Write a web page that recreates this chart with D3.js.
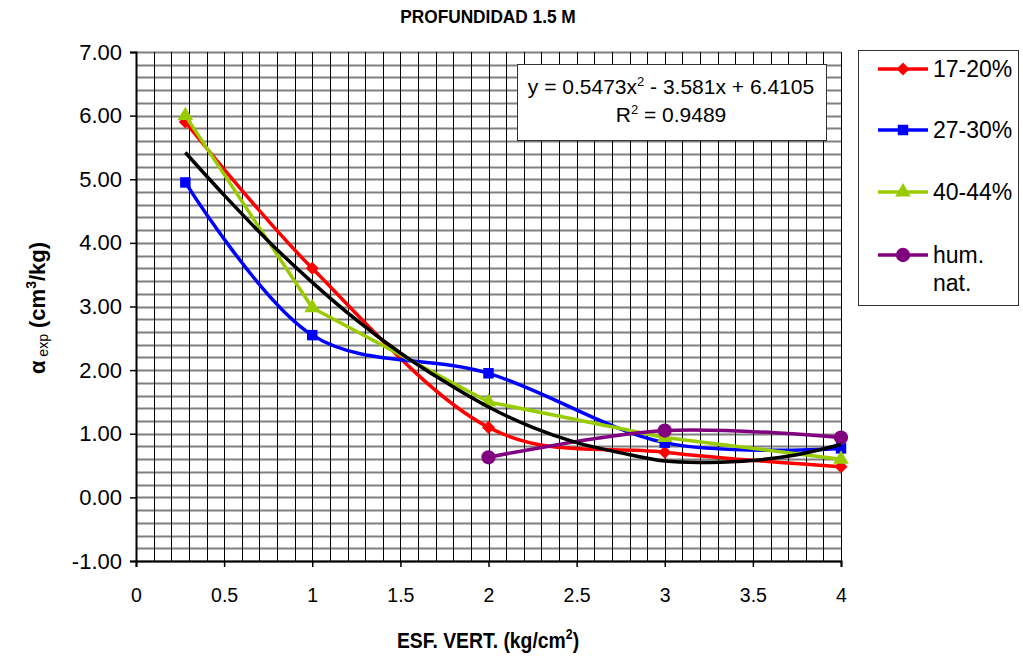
<!DOCTYPE html>
<html><head><meta charset="utf-8">
<script src="https://cdn.jsdelivr.net/npm/d3@7"></script>
<style>body{margin:0;background:#fff}svg{display:block}</style></head>
<body><svg id="c" width="1023" height="659"></svg>
<script>
// ---- data ----
const xTickLabels = [0, 0.5, 1, 1.5, 2, 2.5, 3, 3.5, 4];
const yTickLabels = [-1, 0, 1, 2, 3, 4, 5, 6, 7];
const seriesNames = ["17-20%", "27-30%", "40-44%", "hum. nat."];
const xRed = [0.28, 1, 2, 3, 4];
const yRed = [5.9, 3.6, 1.1, 0.71, 0.48];
const xBlue = [0.28, 1, 2, 3, 4];
const yBlue = [4.95, 2.55, 1.95, 0.86, 0.77];
const xGreen = [0.28, 1, 2, 3, 4];
const yGreen = [6.0, 2.98, 1.5, 0.94, 0.6];
const xPurple = [2, 3, 4];
const yPurple = [0.63, 1.05, 0.94];
const xTrend = [0.28, 0.5, 0.75, 1, 1.25, 1.5, 1.75, 2, 2.25, 2.5, 2.75, 3, 3.25, 3.5, 3.75, 4];
const yTrend = [5.42, 4.75, 4.03, 3.38, 2.79, 2.27, 1.82, 1.42, 1.10, 0.86, 0.70, 0.57, 0.55, 0.58, 0.67, 0.83];
const titleText = "PROFUNDIDAD 1.5 M";
const eqLine1 = ["y = 0.5473x", "2", " - 3.581x + 6.4105"];
const eqLine2 = ["R", "2", " = 0.9489"];

// ---- layout ----
const svg = d3.select("#c");
const FONT = "'Liberation Sans', Arial, sans-serif";
const x = d3.scaleLinear().domain([0, 4]).range([136, 841]);
const y = d3.scaleLinear().domain([-1, 7]).range([561, 52]);

svg.append("rect").attr("width", 1023).attr("height", 659).attr("fill", "#fff");

// grid
const g = svg.append("g");
g.selectAll(".hg").data(d3.range(-1, 7.0001, 0.2)).join("line")
  .attr("x1", x(0)).attr("x2", x(4))
  .attr("y1", d => Math.round(y(d)) + 0.5).attr("y2", d => Math.round(y(d)) + 0.5)
  .attr("stroke", "#808080").attr("stroke-width", 2);
g.selectAll(".vg").data(d3.range(0, 4.0001, 0.1)).join("line")
  .attr("y1", y(7)).attr("y2", y(-1))
  .attr("x1", d => Math.round(x(d)) + 0.5).attr("x2", d => Math.round(x(d)) + 0.5)
  .attr("stroke", "#000").attr("stroke-width", 1);

// axes
const fmt = d3.format(".2f");
const yAxis = svg.append("g").attr("transform", `translate(${x(0)},0)`)
  .call(d3.axisLeft(y).tickValues(yTickLabels).tickFormat(d => fmt(d).replace("\u2212", "-")).tickSize(6).tickPadding(8));
const xAxis = svg.append("g").attr("transform", `translate(0,${y(-1)})`)
  .call(d3.axisBottom(x).tickValues(xTickLabels).tickFormat(d => String(d)).tickSize(6).tickPadding(21));
[xAxis, yAxis].forEach(a => {
  a.select(".domain").attr("stroke", "#000").attr("stroke-width", 2);
  a.selectAll(".tick line").attr("stroke", "#000").attr("stroke-width", 1.5);
  a.selectAll("text").attr("font-family", FONT).attr("fill", "#000");
});
yAxis.selectAll("text").attr("font-size", 22);
xAxis.selectAll("text").attr("font-size", 19.5);

// series
const smooth = d3.line().x(d => x(d[0])).y(d => y(d[1])).curve(d3.curveCatmullRom.alpha(0));
const straight = d3.line().x(d => x(d[0])).y(d => y(d[1]));
const sym = {
  diamond: d3.symbol().type(d3.symbolSquare).size(85),
  square: d3.symbol().type(d3.symbolSquare).size(110),
  triangle: d3.symbol().type(d3.symbolTriangle).size(105),
  circle: d3.symbol().type(d3.symbolCircle).size(160)
};
const rot = {diamond: " rotate(45)", square: "", triangle: "", circle: ""};
const series = [
  {name: seriesNames[0], xs: xRed, ys: yRed, color: "#ff0000", m: "diamond", ln: smooth},
  {name: seriesNames[1], xs: xBlue, ys: yBlue, color: "#0000ff", m: "square", ln: smooth},
  {name: seriesNames[2], xs: xGreen, ys: yGreen, color: "#99cc00", m: "triangle", ln: straight},
  {name: seriesNames[3], xs: xPurple, ys: yPurple, color: "#800080", m: "circle", ln: smooth}
];
series.forEach(s => {
  const pts = s.xs.map((v, i) => [v, s.ys[i]]);
  svg.append("path").attr("d", s.ln(pts)).attr("fill", "none")
    .attr("stroke", s.color).attr("stroke-width", 3.5).attr("stroke-linejoin", "round");
  svg.selectAll(null).data(pts).join("path")
    .attr("d", sym[s.m]()).attr("fill", s.color)
    .attr("transform", d => `translate(${x(d[0])},${y(d[1])})` + rot[s.m]);
});
// trendline
svg.append("path").attr("d", smooth(xTrend.map((v, i) => [v, yTrend[i]])))
  .attr("fill", "none").attr("stroke", "#000").attr("stroke-width", 3.5);

// equation box
svg.append("rect").attr("x", 517.5).attr("y", 64.5).attr("width", 309).attr("height", 76)
  .attr("fill", "#fff").attr("stroke", "#333").attr("stroke-width", 1);
function supText(parts, cx, by) {
  const t = svg.append("text").attr("x", cx).attr("y", by).attr("text-anchor", "middle")
    .attr("font-family", FONT).attr("font-size", 21).attr("fill", "#000");
  t.append("tspan").text(parts[0]);
  t.append("tspan").attr("dy", -8).attr("font-size", 13).text(parts[1]);
  t.append("tspan").attr("dy", 8).text(parts[2]);
}
supText(eqLine1, 671, 94);
supText(eqLine2, 671, 122);

// legend
svg.append("rect").attr("x", 858.5).attr("y", 50.5).attr("width", 160).attr("height", 255)
  .attr("fill", "#fff").attr("stroke", "#333").attr("stroke-width", 1);
const legY = [69, 130, 192, 255];
series.forEach((s, i) => {
  svg.append("line").attr("x1", 878).attr("x2", 928).attr("y1", legY[i]).attr("y2", legY[i])
    .attr("stroke", s.color).attr("stroke-width", 3.5);
  svg.append("path").attr("d", sym[s.m]()).attr("fill", s.color)
    .attr("transform", `translate(903,${legY[i]})` + rot[s.m]);
});
const legText = svg.append("g").attr("font-family", FONT).attr("font-size", 23).attr("fill", "#000");
legText.append("text").attr("x", 933).attr("y", legY[0] + 8).text(seriesNames[0]);
legText.append("text").attr("x", 933).attr("y", legY[1] + 8).text(seriesNames[1]);
legText.append("text").attr("x", 933).attr("y", legY[2] + 8).text(seriesNames[2]);
const hn = seriesNames[3].split(" ");
legText.append("text").attr("x", 933).attr("y", legY[3] + 8).text(hn[0]);
legText.append("text").attr("x", 933).attr("y", legY[3] + 36).text(hn[1]);

// title
svg.append("text").attr("x", 488).attr("y", 23).attr("text-anchor", "middle")
  .attr("font-family", FONT).attr("font-weight", "bold").attr("font-size", 18)
  .attr("transform", "translate(488,0) scale(0.96,1) translate(-488,0)").text(titleText);

// x label
const xl = svg.append("text").attr("x", 488).attr("y", 648).attr("text-anchor", "middle")
  .attr("font-family", FONT).attr("font-weight", "bold").attr("font-size", 22)
  .attr("transform", "translate(488,0) scale(0.88,1) translate(-488,0)");
xl.append("tspan").text("ESF. VERT. (kg/cm");
xl.append("tspan").attr("dy", -9).attr("font-size", 14).text("2");
xl.append("tspan").attr("dy", 9).text(")");

// y label
const yl = svg.append("text").attr("transform", "translate(45,308) rotate(-90)")
  .attr("text-anchor", "middle").attr("font-family", FONT).attr("font-weight", "bold").attr("font-size", 22);
yl.append("tspan").text("α");
yl.append("tspan").attr("dy", 3).attr("font-size", 14).attr("font-weight", "normal").text(" exp");
yl.append("tspan").attr("dy", -3).text(" (cm");
yl.append("tspan").attr("dy", -9).attr("font-size", 14).text("3");
yl.append("tspan").attr("dy", 9).text("/kg)");
</script></body></html>
